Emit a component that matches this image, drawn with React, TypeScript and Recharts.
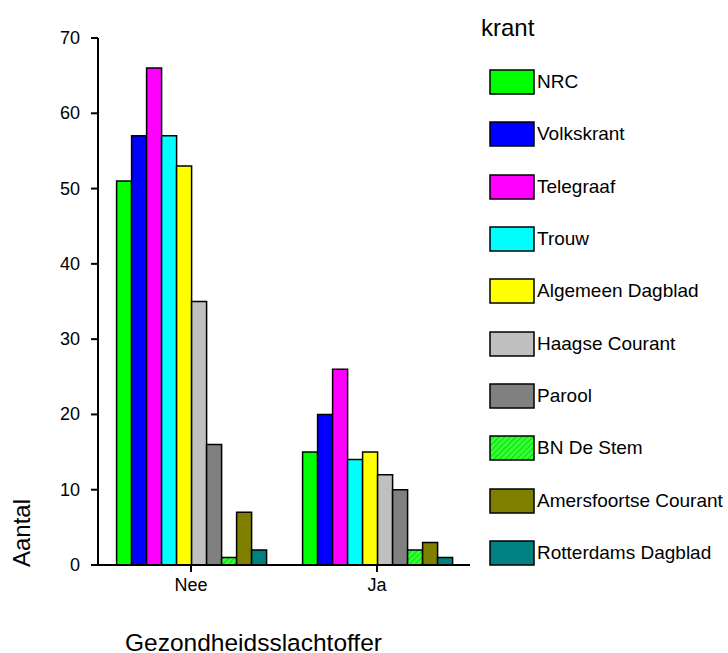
import React from "react";
import { BarChart, Bar, XAxis, YAxis, Customized } from "recharts";

const categories = ["Nee", "Ja"];
const kranten = [
  "NRC",
  "Volkskrant",
  "Telegraaf",
  "Trouw",
  "Algemeen Dagblad",
  "Haagse Courant",
  "Parool",
  "BN De Stem",
  "Amersfoortse Courant",
  "Rotterdams Dagblad",
];
const neeValues = [51, 57, 66, 57, 53, 35, 16, 1, 7, 2];
const jaValues = [15, 20, 26, 14, 15, 12, 10, 2, 3, 1];
const yTicks = [0, 10, 20, 30, 40, 50, 60, 70];

const colors = [
  "#00ff00",
  "#0000ff",
  "#ff00ff",
  "#00ffff",
  "#ffff00",
  "#c0c0c0",
  "#808080",
  "url(#hatch)",
  "#808000",
  "#008080",
];

const data = categories.map((c, ci) => {
  const row: Record<string, string | number> = { name: c };
  kranten.forEach((k, i) => {
    row[k] = ci === 0 ? neeValues[i] : jaValues[i];
  });
  return row;
});

const font = "'Liberation Sans', Arial, sans-serif";

const XTick = (props: any) => {
  const { x, y, payload } = props;
  return (
    <text x={x} y={y} dy={13} textAnchor="middle" fontSize={18} fontFamily={font} fill="#000">
      {payload.value}
    </text>
  );
};

const YTick = (props: any) => {
  const { x, y, payload } = props;
  return (
    <text x={x} y={y} dy={6} textAnchor="end" fontSize={18} fontFamily={font} fill="#000">
      {payload.value}
    </text>
  );
};

// legend drawn as plain html next to the plot
const KrantLegend = () => (
  <div style={{ position: "absolute", left: 489, top: 14, fontFamily: font }}>
    <div style={{ fontSize: 24, lineHeight: "28px", color: "#000", marginLeft: -8, height: 42 }}>krant</div>
    {kranten.map((k, i) => (
      <div key={k} style={{ display: "flex", alignItems: "center", height: 52.3 }}>
        <svg width={46} height={26} style={{ marginRight: 2 }}>
          <defs>
            <pattern id={"lh" + i} width="4" height="4" patternUnits="userSpaceOnUse" patternTransform="rotate(45)">
              <rect width="4" height="4" fill="#33ff33" />
              <line x1="0" y1="0" x2="0" y2="4" stroke="#00cc00" strokeWidth="1.5" />
            </pattern>
          </defs>
          <rect
            x={1}
            y={1}
            width={44}
            height={24}
            fill={colors[i].startsWith("url") ? `url(#lh${i})` : colors[i]}
            stroke="#000"
            strokeWidth={1.5}
          />
        </svg>
        <span style={{ fontSize: 19, color: "#000", whiteSpace: "nowrap" }}>{k}</span>
      </div>
    ))}
  </div>
);

const Titles = () => (
  <g fontFamily={font} fill="#000">
    <text x={30} y={533} fontSize={24} textAnchor="middle" transform="rotate(-90 30 533)">
      Aantal
    </text>
    <text x={125} y={651} fontSize={24.5}>
      Gezondheidsslachtoffer
    </text>
  </g>
);

export default function App() {
  return (
    <div style={{ position: "absolute", left: 0, top: 0, width: 728, height: 653, background: "#fff" }}>
      <BarChart
        width={728}
        height={653}
        data={data}
        margin={{ top: 38, right: 258, left: 0, bottom: 58 }}
        barCategoryGap="10%"
        barGap={0}
      >
        <defs>
          <pattern id="hatch" width="4" height="4" patternUnits="userSpaceOnUse" patternTransform="rotate(45)">
            <rect width="4" height="4" fill="#33ff33" />
            <line x1="0" y1="0" x2="0" y2="4" stroke="#00cc00" strokeWidth="1.5" />
          </pattern>
        </defs>
        <XAxis
          dataKey="name"
          height={30}
          axisLine={{ stroke: "#000", strokeWidth: 2 }}
          tickLine={{ stroke: "#000", strokeWidth: 2 }}
          tickSize={7}
          tickMargin={6}
          tick={<XTick />}
        />
        <XAxis
          xAxisId="top"
          orientation="top"
          dataKey="name"
          height={0}
          tick={false}
          tickLine={false}
          axisLine={{ stroke: "#000", strokeWidth: 2 }}
        />
        <YAxis
          width={98}
          domain={[0, 70]}
          ticks={yTicks}
          interval={0}
          axisLine={{ stroke: "#000", strokeWidth: 2 }}
          tickLine={{ stroke: "#000", strokeWidth: 2 }}
          tickSize={7}
          tickMargin={11}
          tick={<YTick />}
        />
        <YAxis
          yAxisId="right"
          orientation="right"
          width={0}
          domain={[0, 70]}
          tick={false}
          tickLine={false}
          axisLine={{ stroke: "#000", strokeWidth: 2 }}
        />
        {kranten.map((k, i) => (
          <Bar key={k} dataKey={k} fill={colors[i]} stroke="#000" strokeWidth={1.5} isAnimationActive={false} />
        ))}
        <Customized component={<Titles />} />
      </BarChart>
      <KrantLegend />
    </div>
  );
}
